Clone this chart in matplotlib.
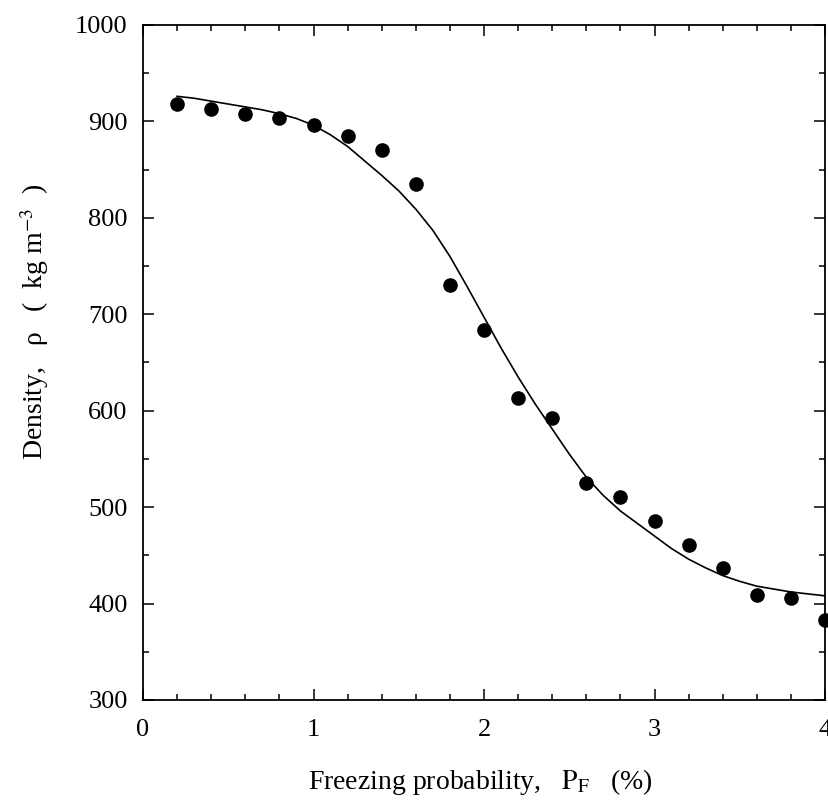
import matplotlib
matplotlib.use("Agg")
import matplotlib.pyplot as plt
from matplotlib.ticker import MultipleLocator

# ==============================
# DATA
# ==============================

# measured points
freeze_prob = [0.2, 0.4, 0.6, 0.8, 1.0, 1.2, 1.4, 1.6, 1.8, 2.0,
               2.2, 2.4, 2.6, 2.8, 3.0, 3.2, 3.4, 3.6, 3.8, 4.0]
density = [918, 913, 908, 904, 896, 885, 870, 835, 730, 684,
           613, 592, 525, 510, 486, 461, 437, 409, 406, 383]

# fitted curve
curve_x = [0.2, 0.3, 0.4, 0.5, 0.6, 0.7, 0.8, 0.9, 1.0, 1.1,
           1.2, 1.3, 1.4, 1.5, 1.6, 1.7, 1.8, 1.9, 2.0, 2.1,
           2.2, 2.3, 2.4, 2.5, 2.6, 2.7, 2.8, 2.9, 3.0, 3.1,
           3.2, 3.3, 3.4, 3.5, 3.6, 3.7, 3.8, 3.9, 4.0]
curve_y = [926, 924, 921, 918, 915, 912, 908, 903, 896, 886,
           874, 859, 844, 828, 809, 787, 760, 729, 697, 665,
           635, 607, 581, 555, 531, 512, 496, 483, 470, 457,
           446, 437, 429, 423, 418, 415, 412, 410, 408]

x_ticks = [0, 1, 2, 3, 4]
y_ticks = [300, 400, 500, 600, 700, 800, 900, 1000]

# ==============================
# STYLE
# ==============================

plt.rcParams["font.family"] = ["Liberation Serif", "DejaVu Serif"]
plt.rcParams["mathtext.fontset"] = "stix"

fig = plt.figure(figsize=(8.29, 8.08), dpi=100)
ax = fig.add_axes([0.1725, 0.1337, 0.8227, 0.8354])

# ==============================
# PLOT
# ==============================

ax.plot(curve_x, curve_y, color="black", linewidth=1.2)
ax.plot(freeze_prob, density, "o", color="black", markersize=9.5,
        linestyle="none", clip_on=False, zorder=3)

ax.set_xlim(0, 4)
ax.set_ylim(300, 1000)
ax.set_xticks(x_ticks)
ax.set_yticks(y_ticks)
ax.xaxis.set_minor_locator(MultipleLocator(0.2))
ax.yaxis.set_minor_locator(MultipleLocator(50))

ax.tick_params(which="both", direction="in", top=True, right=True,
               labelsize=19, width=1.1)
ax.tick_params(which="major", length=8)
ax.tick_params(which="minor", length=4.5)
ax.tick_params(axis="x", pad=14)
ax.tick_params(axis="y", pad=11)

for spine in ax.spines.values():
    spine.set_linewidth(1.3)

ax.set_xlabel(r"Freezing probability,   $\mathrm{P}_\mathrm{F}$   (%)",
              fontsize=20)
ax.set_ylabel(r"Density,   ρ   (  kg m$^{-3}$  )", fontsize=20)
ax.xaxis.set_label_coords(0.495, -0.1)
ax.yaxis.set_label_coords(-0.135, 0.56)

fig.savefig("out.png", dpi=100)
plt.close(fig)
